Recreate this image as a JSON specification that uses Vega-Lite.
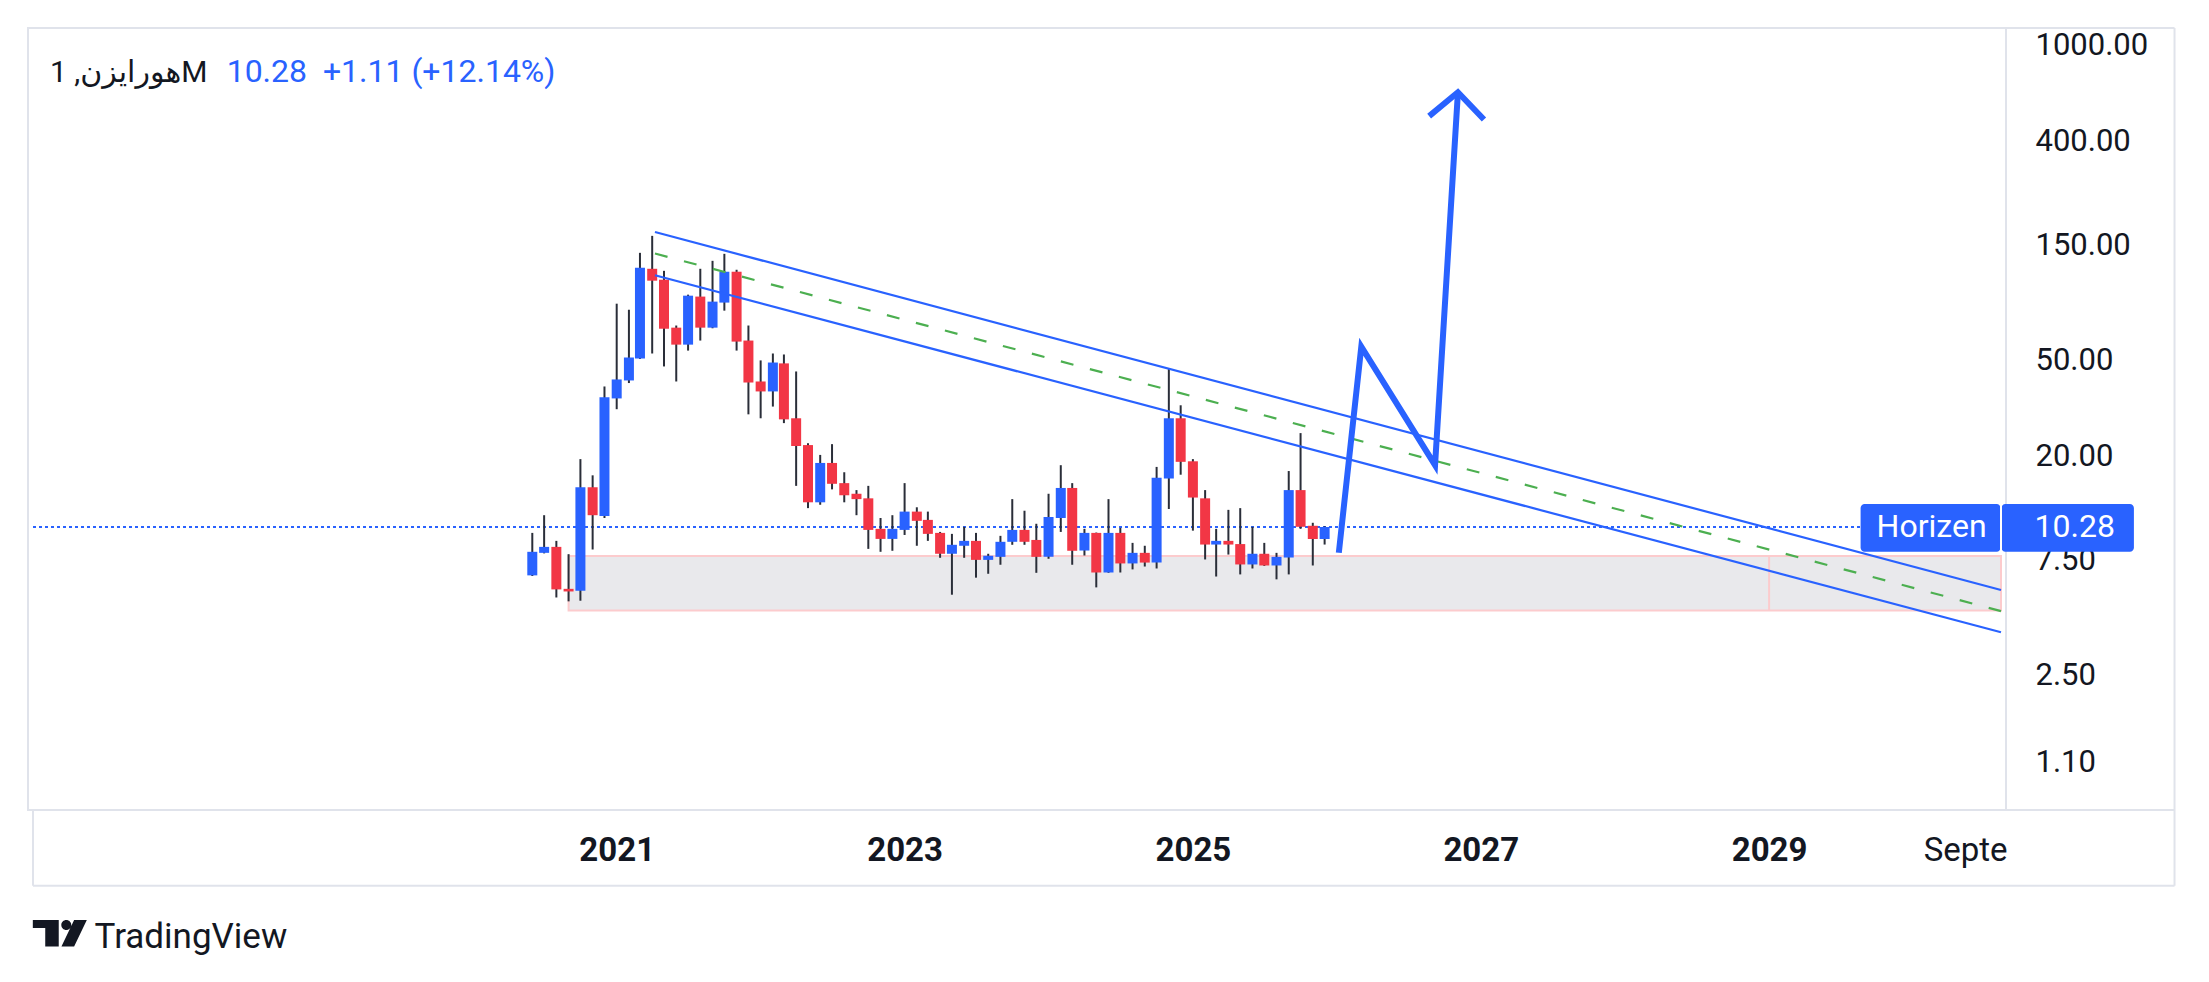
{
  "$schema": "https://vega.github.io/schema/vega-lite/v6.json",
  "width": 1978,
  "height": 782,
  "autosize": {"type": "none"},
  "padding": {"left": 28, "top": 28, "right": 203, "bottom": 172},
  "background": "#ffffff",
  "config": {"view": {"stroke": "#e0e3eb", "strokeWidth": 2}, "font": "Roboto"},
  "datasets": {
    "candles": [
      {"t":"2020-06-01","op":6.49,"hi":9.72,"lo":6.45,"cl":8.12},
      {"t":"2020-07-01","op":8.04,"hi":11.5,"lo":8.0,"cl":8.51},
      {"t":"2020-08-01","op":8.51,"hi":9.01,"lo":5.26,"cl":5.68},
      {"t":"2020-09-01","op":5.71,"hi":7.94,"lo":5.07,"cl":5.57},
      {"t":"2020-10-01","op":5.61,"hi":19.6,"lo":5.10,"cl":15.0},
      {"t":"2020-11-01","op":15.0,"hi":16.8,"lo":8.30,"cl":11.5},
      {"t":"2020-12-01","op":11.4,"hi":39.1,"lo":11.2,"cl":35.3},
      {"t":"2021-01-01","op":34.9,"hi":85.9,"lo":31.5,"cl":41.8},
      {"t":"2021-02-01","op":41.4,"hi":81.1,"lo":40.4,"cl":51.5},
      {"t":"2021-03-01","op":51.0,"hi":139.3,"lo":50.8,"cl":120.8},
      {"t":"2021-04-01","op":119.7,"hi":163.7,"lo":53.5,"cl":106.9},
      {"t":"2021-05-01","op":107.9,"hi":117.4,"lo":47.3,"cl":67.7},
      {"t":"2021-06-01","op":68.4,"hi":69.8,"lo":41.0,"cl":58.2},
      {"t":"2021-07-01","op":58.2,"hi":93.6,"lo":55.0,"cl":92.7},
      {"t":"2021-08-01","op":91.9,"hi":119.7,"lo":60.5,"cl":68.4},
      {"t":"2021-09-01","op":68.4,"hi":129.1,"lo":68.0,"cl":87.6},
      {"t":"2021-10-01","op":86.8,"hi":138.0,"lo":80.4,"cl":116.4},
      {"t":"2021-11-01","op":116.4,"hi":118.6,"lo":55.0,"cl":59.9},
      {"t":"2021-12-01","op":60.5,"hi":69.8,"lo":30.0,"cl":40.6},
      {"t":"2022-01-01","op":41.0,"hi":50.1,"lo":28.9,"cl":37.3},
      {"t":"2022-02-01","op":37.3,"hi":53.5,"lo":32.3,"cl":49.1},
      {"t":"2022-03-01","op":48.7,"hi":53.0,"lo":27.6,"cl":28.6},
      {"t":"2022-04-01","op":28.9,"hi":45.1,"lo":15.2,"cl":22.2},
      {"t":"2022-05-01","op":22.4,"hi":22.8,"lo":12.3,"cl":13.0},
      {"t":"2022-06-01","op":13.0,"hi":20.4,"lo":12.7,"cl":18.9},
      {"t":"2022-07-01","op":18.9,"hi":22.6,"lo":14.7,"cl":15.5},
      {"t":"2022-08-01","op":15.6,"hi":17.3,"lo":13.0,"cl":13.9},
      {"t":"2022-09-01","op":14.1,"hi":14.6,"lo":11.5,"cl":13.4},
      {"t":"2022-10-01","op":13.5,"hi":15.2,"lo":8.35,"cl":10.0},
      {"t":"2022-11-01","op":10.1,"hi":11.2,"lo":8.12,"cl":9.18},
      {"t":"2022-12-01","op":9.18,"hi":11.5,"lo":8.2,"cl":10.1},
      {"t":"2023-01-01","op":10.0,"hi":15.6,"lo":9.53,"cl":11.9},
      {"t":"2023-02-01","op":11.9,"hi":12.4,"lo":8.60,"cl":10.9},
      {"t":"2023-03-01","op":11.0,"hi":11.9,"lo":9.01,"cl":9.63},
      {"t":"2023-04-01","op":9.72,"hi":9.81,"lo":7.67,"cl":7.97},
      {"t":"2023-05-01","op":7.97,"hi":9.63,"lo":5.40,"cl":8.68},
      {"t":"2023-06-01","op":8.60,"hi":10.3,"lo":7.67,"cl":9.01},
      {"t":"2023-07-01","op":9.01,"hi":9.72,"lo":6.35,"cl":7.52},
      {"t":"2023-08-01","op":7.52,"hi":7.97,"lo":6.59,"cl":7.82},
      {"t":"2023-09-01","op":7.74,"hi":9.45,"lo":7.18,"cl":8.93},
      {"t":"2023-10-01","op":8.93,"hi":13.4,"lo":8.68,"cl":10.0},
      {"t":"2023-11-01","op":10.0,"hi":12.0,"lo":8.68,"cl":8.93},
      {"t":"2023-12-01","op":9.09,"hi":10.6,"lo":6.65,"cl":7.74},
      {"t":"2024-01-01","op":7.74,"hi":14.1,"lo":7.60,"cl":11.3},
      {"t":"2024-02-01","op":11.2,"hi":18.5,"lo":9.81,"cl":14.9},
      {"t":"2024-03-01","op":14.9,"hi":15.6,"lo":7.18,"cl":8.20},
      {"t":"2024-04-01","op":8.22,"hi":10.1,"lo":7.84,"cl":9.72},
      {"t":"2024-05-01","op":9.72,"hi":9.75,"lo":5.79,"cl":6.67},
      {"t":"2024-06-01","op":6.67,"hi":13.4,"lo":6.65,"cl":9.72},
      {"t":"2024-07-01","op":9.72,"hi":10.2,"lo":6.67,"cl":7.27},
      {"t":"2024-08-01","op":7.27,"hi":8.84,"lo":6.87,"cl":8.04},
      {"t":"2024-09-01","op":8.04,"hi":8.60,"lo":7.06,"cl":7.33},
      {"t":"2024-10-01","op":7.33,"hi":18.2,"lo":6.93,"cl":16.4},
      {"t":"2024-11-01","op":16.3,"hi":46.4,"lo":12.2,"cl":28.9},
      {"t":"2024-12-01","op":28.9,"hi":32.7,"lo":16.9,"cl":19.1},
      {"t":"2025-01-01","op":19.2,"hi":19.6,"lo":9.93,"cl":13.6},
      {"t":"2025-02-01","op":13.5,"hi":14.6,"lo":7.55,"cl":8.70},
      {"t":"2025-03-01","op":8.70,"hi":10.1,"lo":6.42,"cl":9.01},
      {"t":"2025-04-01","op":9.01,"hi":12.1,"lo":7.91,"cl":8.70},
      {"t":"2025-05-01","op":8.74,"hi":12.3,"lo":6.55,"cl":7.20},
      {"t":"2025-06-01","op":7.20,"hi":10.3,"lo":6.93,"cl":7.97},
      {"t":"2025-07-01","op":7.97,"hi":8.84,"lo":7.10,"cl":7.13},
      {"t":"2025-08-01","op":7.13,"hi":8.04,"lo":6.25,"cl":7.74},
      {"t":"2025-09-01","op":7.69,"hi":17.5,"lo":6.55,"cl":14.6},
      {"t":"2025-10-01","op":14.6,"hi":25.1,"lo":10.1,"cl":10.3},
      {"t":"2025-11-01","op":10.4,"hi":10.7,"lo":7.13,"cl":9.17},
      {"t":"2025-12-01","op":9.17,"hi":10.35,"lo":8.70,"cl":10.28}
    ],
    "channel": [
      {"id":"upper","t":"2021-04-08","v":169.8},
      {"id":"upper","t":"2030-08-12","v":5.65},
      {"id":"lower","t":"2021-04-08","v":112.6},
      {"id":"lower","t":"2030-08-12","v":3.78}
    ],
    "mid": [
      {"t":"2021-04-08","v":138.4},
      {"t":"2030-08-12","v":4.62}
    ],
    "arrow": [
      {"seg":"path","o":1,"t":"2026-01-06","v":8.05},
      {"seg":"path","o":2,"t":"2026-03-04","v":57.1},
      {"seg":"path","o":3,"t":"2026-09-07","v":18.5},
      {"seg":"path","o":4,"t":"2026-11-04","v":641},
      {"seg":"head","o":1,"t":"2026-08-23","v":511},
      {"seg":"head","o":2,"t":"2026-11-04","v":641},
      {"seg":"head","o":3,"t":"2027-01-09","v":495}
    ],
    "frame": [
      {"t":"2030-08-12","t2":"2031-10-26","v":1181,"v2":1181},
      {"t":"2030-08-12","t2":"2031-10-26","v":0.6975,"v2":0.6975},
      {"t":"2031-10-26","t2":"2031-10-26","v":1181,"v2":0.3396},
      {"t":"2016-12-13","t2":"2031-10-26","v":0.3396,"v2":0.3396},
      {"t":"2016-12-13","t2":"2016-12-13","v":0.6975,"v2":0.3396}
    ]
  },
  "encoding": {
    "x": {
      "field": "t",
      "type": "temporal",
      "scale": {
        "domain": [
          {"year": 2016, "month": 12, "date": 13, "utc": true},
          {"year": 2030, "month": 8, "date": 12, "utc": true}
        ],
        "nice": false
      },
      "axis": {
        "values": [
          {"year": 2021, "month": 1, "date": 1, "utc": true},
          {"year": 2023, "month": 1, "date": 1, "utc": true},
          {"year": 2025, "month": 1, "date": 1, "utc": true},
          {"year": 2027, "month": 1, "date": 1, "utc": true},
          {"year": 2029, "month": 1, "date": 1, "utc": true},
          {"year": 2030, "month": 5, "date": 13, "utc": true}
        ],
        "labelExpr": "utcmonth(datum.value) == 4 ? 'Septe' : utcFormat(datum.value, '%Y')",
        "labelFontWeight": {"condition": {"test": "utcmonth(datum.value) == 4", "value": "normal"}, "value": "bold"},
        "labelFontSize": 33,
        "labelColor": "#131722",
        "labelPadding": 50,
        "labelBaseline": "alphabetic",
        "ticks": false,
        "tickSize": 0,
        "domain": false,
        "grid": false,
        "title": null,
        "labelFlush": false,
        "labelOverlap": false
      }
    },
    "y": {
      "field": "v",
      "type": "quantitative",
      "scale": {"type": "log", "domain": [0.6975, 1181], "nice": false, "zero": false},
      "axis": {
        "orient": "right",
        "values": [1.1, 2.5, 7.5, 20, 50, 150, 400, 1000],
        "format": ".2f",
        "labelFontSize": 31,
        "labelColor": "#131722",
        "labelAlign": "left",
        "labelBaseline": "middle",
        "labelPadding": 29,
        "ticks": false,
        "tickSize": 0,
        "domain": false,
        "grid": false,
        "title": null,
        "labelOverlap": false,
        "labelFlush": false
      }
    }
  },
  "layer": [
    {
      "data": {"values": [{"t":"2020-09-01","t2":"2030-08-12","v":7.80,"v2":4.65}]},
      "mark": {"type": "rect", "fill": "#e9e9ec", "stroke": "#fccbcd", "strokeWidth": 2},
      "encoding": {"x2": {"field": "t2"}, "y2": {"field": "v2"}}
    },
    {
      "data": {"values": [{"t":"2029-01-01","v":7.80,"v2":4.65}]},
      "mark": {"type": "rule", "stroke": "#fccbcd", "strokeWidth": 2},
      "encoding": {"y2": {"field": "v2"}}
    },
    {
      "data": {"values": [{"t":"2016-12-13","t2":"2030-08-12","v":10.28}]},
      "mark": {"type": "rule", "stroke": "#2962FF", "strokeWidth": 2, "strokeDash": [3, 3]},
      "encoding": {"x2": {"field": "t2"}}
    },
    {
      "data": {"name": "candles"},
      "mark": {"type": "rule", "color": "#2a2e39", "strokeWidth": 2},
      "encoding": {
        "y": {"field": "lo", "type": "quantitative", "scale": {"type": "log", "domain": [0.6975, 1181], "nice": false, "zero": false}, "title": null},
        "y2": {"field": "hi"}
      }
    },
    {
      "data": {"name": "candles"},
      "mark": {"type": "bar", "size": 10},
      "encoding": {
        "y": {"field": "op", "type": "quantitative", "scale": {"type": "log", "domain": [0.6975, 1181], "nice": false, "zero": false}, "title": null},
        "y2": {"field": "cl"},
        "color": {"condition": {"test": "datum.cl >= datum.op", "value": "#2962FF"}, "value": "#F23645"}
      }
    },
    {
      "data": {"name": "channel"},
      "mark": {"type": "line", "color": "#2962FF", "strokeWidth": 2.2, "clip": true},
      "encoding": {"detail": {"field": "id"}}
    },
    {
      "data": {"name": "mid"},
      "mark": {"type": "line", "color": "#4CAF50", "strokeWidth": 2.2, "strokeDash": [13, 17], "clip": true},
      "encoding": {}
    },
    {
      "data": {"name": "arrow"},
      "mark": {"type": "line", "color": "#2962FF", "strokeWidth": 6, "strokeCap": "butt", "strokeJoin": "miter"},
      "encoding": {"detail": {"field": "seg"}, "order": {"field": "o", "type": "quantitative"}}
    },
    {
      "data": {"values": [{"t":"2029-08-21","t2":"2030-08-11","v":12.79,"v2":8.13}]},
      "mark": {"type": "rect", "fill": "#2962FF", "cornerRadius": 4, "clip": false},
      "encoding": {"x2": {"field": "t2"}, "y2": {"field": "v2"}}
    },
    {
      "data": {"values": [{"t":"2030-08-13","t2":"2031-07-15","v":12.79,"v2":8.13}]},
      "mark": {"type": "rect", "fill": "#2962FF", "cornerRadius": 4, "clip": false},
      "encoding": {"x2": {"field": "t2"}, "y2": {"field": "v2"}}
    },
    {
      "data": {"values": [{"t":"2030-08-12","v":12.79,"v2":8.13}]},
      "mark": {"type": "rule", "stroke": "#ffffff", "strokeWidth": 2, "clip": false},
      "encoding": {"y2": {"field": "v2"}}
    },
    {
      "data": {"values": [{"t":"2030-02-17","v":10.28,"label":"Horizen"}]},
      "mark": {"type": "text", "color": "#ffffff", "fontSize": 32, "align": "center", "baseline": "middle", "clip": false},
      "encoding": {"text": {"field": "label"}}
    },
    {
      "data": {"values": [{"t":"2030-11-05","v":10.28,"label":"10.28"}]},
      "mark": {"type": "text", "color": "#ffffff", "fontSize": 32, "align": "left", "baseline": "middle", "clip": false},
      "encoding": {"text": {"field": "label"}}
    },
    {
      "data": {"values": [{"t":"2017-01-25","v":708.8,"label":"\u2067هورایزن, 1\u2069M"}]},
      "mark": {"type": "text", "color": "#131722", "fontSize": 30, "font": "Roboto, DejaVu Sans", "align": "left", "baseline": "alphabetic"},
      "encoding": {"text": {"field": "label"}}
    },
    {
      "data": {"values": [{"t":"2018-04-18","v":708.8,"label":"10.28\u00a0 +1.11 (+12.14%)"}]},
      "mark": {"type": "text", "color": "#2962FF", "fontSize": 32, "align": "left", "baseline": "alphabetic"},
      "encoding": {"text": {"field": "label"}}
    },
    {
      "data": {"name": "frame"},
      "mark": {"type": "rule", "stroke": "#e0e3eb", "strokeWidth": 2, "clip": false},
      "encoding": {"x2": {"field": "t2"}, "y2": {"field": "v2"}}
    },
    {
      "data": {"values": [{"t":"2017-02-19","v":0.2161}]},
      "mark": {
        "type": "point",
        "shape": "M-1,-0.49H-0.04V0.49H-0.54V-0.19H-1Z M0.055,-0.31a0.185,0.185 0 1,0 0.37,0a0.185,0.185 0 1,0 -0.37,0Z M0.53,-0.49H1L0.53,0.49H0.06Z",
        "filled": true,
        "color": "#131722",
        "opacity": 1,
        "strokeWidth": 0,
        "size": 2916,
        "clip": false
      },
      "encoding": {}
    },
    {
      "data": {"values": [{"t":"2017-05-18","v":0.1873,"label":"TradingView"}]},
      "mark": {"type": "text", "color": "#131722", "fontSize": 35, "align": "left", "baseline": "alphabetic", "clip": false},
      "encoding": {"text": {"field": "label"}}
    }
  ]
}
